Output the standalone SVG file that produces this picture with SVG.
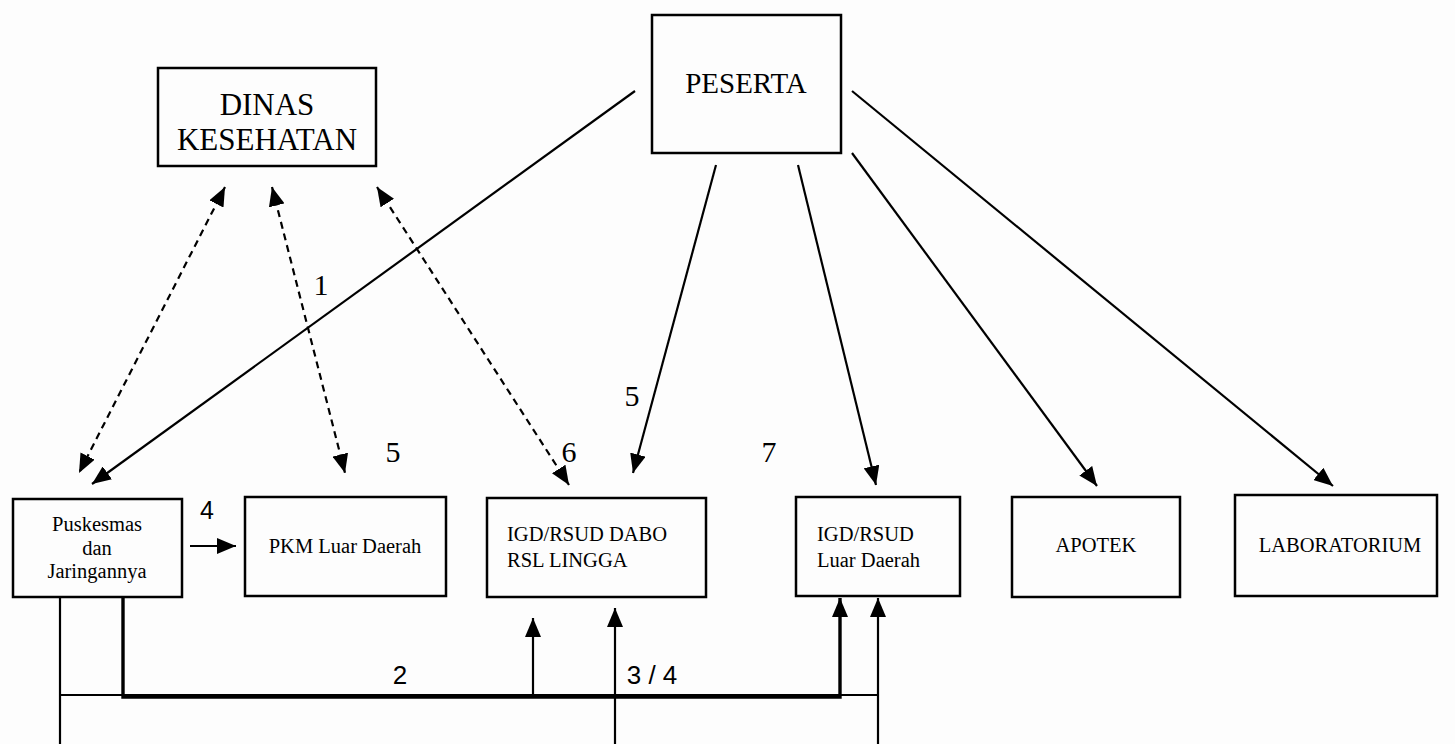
<svg xmlns="http://www.w3.org/2000/svg" width="1455" height="744" viewBox="0 0 1455 744">
<style>
.box{fill:none;stroke:#000;stroke-width:2.5}
.t{font-family:"Liberation Serif","Times New Roman",serif;fill:#000;text-anchor:middle}
.big{font-size:31px}
.mid{font-size:20.5px}
.num{font-size:30px}
.sans{font-family:"Liberation Sans",Arial,sans-serif;fill:#000;text-anchor:middle}
.ln{fill:none;stroke:#000;stroke-width:2.2}
.dash{fill:none;stroke:#000;stroke-width:2.2;stroke-dasharray:7 5}
.thick{fill:none;stroke:#000;stroke-width:3.4}
</style>
<defs>
<marker id="ah" markerUnits="userSpaceOnUse" markerWidth="20" markerHeight="16" refX="19" refY="8" orient="auto-start-reverse">
<path d="M0,0 L19,8 L0,16 z" fill="#000"/>
</marker>
</defs>
<rect width="1455" height="744" fill="#fdfdfd"/>

<g id="dinas">
<rect class="box" x="158" y="68" width="218" height="98"/>
<text class="t big" x="267" y="115">DINAS</text>
<text class="t big" x="267" y="150">KESEHATAN</text>
</g>
<g id="peserta">
<rect class="box" x="652" y="15" width="189" height="138"/>
<text class="t" style="font-size:29px" x="746" y="93">PESERTA</text>
</g>
<g id="puskesmas">
<rect class="box" x="13" y="499" width="169" height="98"/>
<text class="t mid" x="97" y="531">Puskesmas</text>
<text class="t mid" x="97" y="555">dan</text>
<text class="t mid" x="97" y="578">Jaringannya</text>
</g>
<g id="pkm">
<rect class="box" x="245" y="497" width="201" height="99"/>
<text class="t mid" x="345" y="553">PKM Luar Daerah</text>
</g>
<g id="igd-dabo">
<rect class="box" x="487" y="498" width="219" height="99"/>
<text class="t mid" x="507" y="541" style="text-anchor:start">IGD/RSUD DABO</text>
<text class="t mid" x="507" y="567" style="text-anchor:start">RSL LINGGA</text>
</g>
<g id="igd-luar">
<rect class="box" x="796" y="497" width="164" height="99"/>
<text class="t mid" x="817" y="541" style="text-anchor:start">IGD/RSUD</text>
<text class="t mid" x="817" y="567" style="text-anchor:start">Luar Daerah</text>
</g>
<g id="apotek">
<rect class="box" x="1012" y="497" width="168" height="100"/>
<text class="t mid" x="1096" y="552">APOTEK</text>
</g>
<g id="lab">
<rect class="box" x="1235" y="495" width="202" height="101"/>
<text class="t mid" x="1340" y="552">LABORATORIUM</text>
</g>

<g id="connectors">
<path class="ln" d="M635 91 L92 484" marker-end="url(#ah)"/>
<path class="ln" d="M716 165 L633 473" marker-end="url(#ah)"/>
<path class="ln" d="M798 165 L876 485" marker-end="url(#ah)"/>
<path class="ln" d="M852 153 L1097 486" marker-end="url(#ah)"/>
<path class="ln" d="M852 91 L1333 486" marker-end="url(#ah)"/>
<path class="dash" d="M225 187 L79 473" marker-start="url(#ah)" marker-end="url(#ah)"/>
<path class="dash" d="M272 187 L345 473" marker-start="url(#ah)" marker-end="url(#ah)"/>
<path class="dash" d="M377 187 L569 485" marker-start="url(#ah)" marker-end="url(#ah)"/>
<path class="ln" d="M190 546 L236 546" marker-end="url(#ah)"/>
<path class="ln" d="M60 597 V744"/>
<path class="ln" d="M60 695 H878"/>
<path class="ln" d="M878 744 V598" marker-end="url(#ah)"/>
<path class="thick" d="M123 597 V697 H840 V598" marker-end="url(#ah)"/>
<path class="ln" d="M533 697 V618" marker-end="url(#ah)"/>
<path class="ln" d="M615 744 V608" marker-end="url(#ah)"/>
</g>

<g id="labels">
<text class="t num" x="321" y="295">1</text>
<text class="t num" x="393" y="462">5</text>
<text class="t num" x="569" y="462">6</text>
<text class="t num" x="632" y="406">5</text>
<text class="t num" x="769" y="462">7</text>
<text class="sans" style="font-size:25px" x="207" y="519">4</text>
<text class="sans" style="font-size:26px" x="400" y="684">2</text>
<text class="sans" style="font-size:26px" x="652" y="684">3 / 4</text>
</g>
</svg>
